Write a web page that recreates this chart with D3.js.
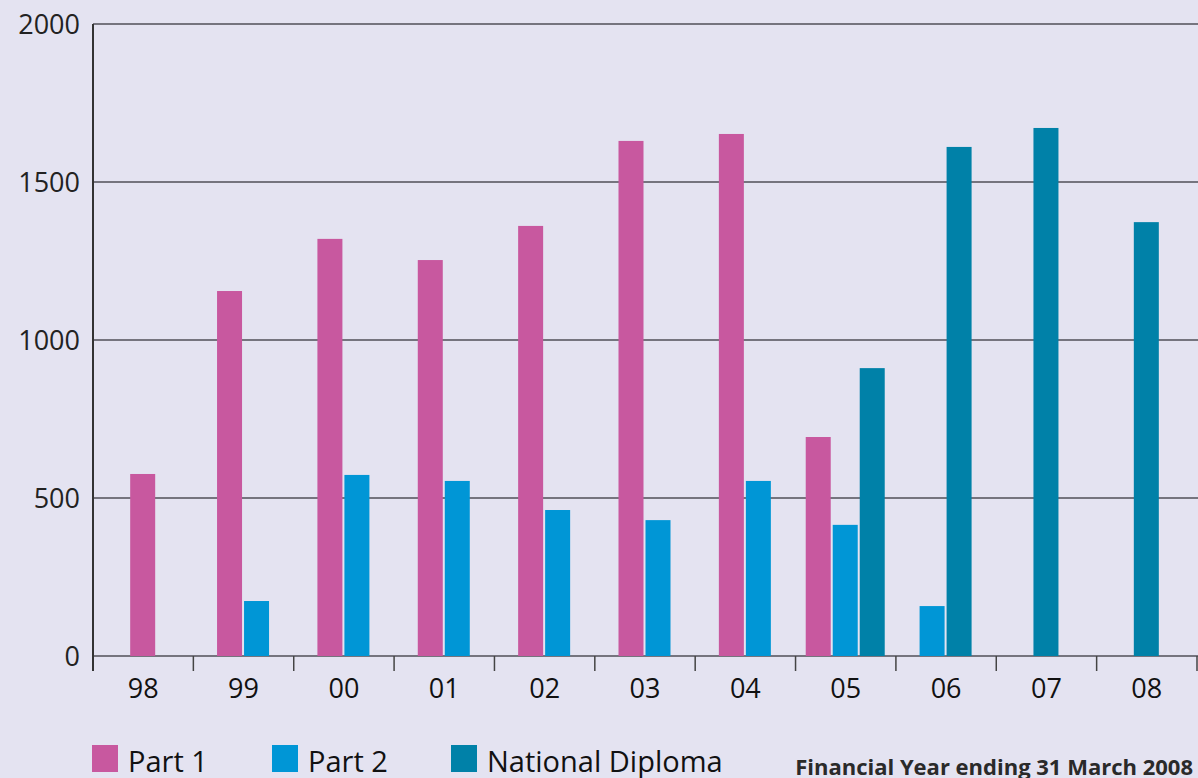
<!DOCTYPE html>
<html>
<head>
<meta charset="utf-8">
<title>Financial Year chart</title>
<script src="https://cdn.jsdelivr.net/npm/d3@7"></script>
<style>
  body { margin: 0; background: #e4e3f1; }
  svg { display: block; font-family: "Open Sans", "DejaVu Sans", sans-serif; }
  .grid line { stroke: #75747e; stroke-width: 2px; }
  .ylab { font-size: 27px; fill: #222; }
  .xlab { font-size: 27px; fill: #111; }
  .legend text { font-size: 29px; fill: #111; }
  .note { font-size: 22px; font-weight: bold; fill: #2a2a2a; }
</style>
</head>
<body>
<div id="chart"></div>
<script>
// data
const years = ["98", "99", "00", "01", "02", "03", "04", "05", "06", "07", "08"];
const part1 = [576, 1155, 1320, 1253, 1361, 1630, 1652, 693, null, null, null];
const part2 = [null, 174, 573, 554, 462, 430, 554, 415, 158, null, null];
const diploma = [null, null, null, null, null, null, null, 911, 1611, 1671, 1373];
const seriesNames = ["Part 1", "Part 2", "National Diploma"];
const seriesColors = ["#c8589f", "#0096d6", "#0081a8"];
const yTicks = [0, 500, 1000, 1500, 2000];

const W = 1198, H = 778;
const plot = { left: 93, right: 1197, top: 24, bottom: 656 };

const svg = d3.select("#chart").append("svg")
    .attr("width", W).attr("height", H);

svg.append("rect").attr("width", W).attr("height", H).attr("fill", "#e4e3f1");

const x = d3.scaleBand().domain(years).range([plot.left, plot.right]).padding(0);
const y = d3.scaleLinear().domain([0, 2000]).range([plot.bottom, plot.top]);

// gridlines
svg.append("g").attr("class", "grid")
  .selectAll("line").data(yTicks).join("line")
    .attr("x1", plot.left).attr("x2", W)
    .attr("y1", d => y(d)).attr("y2", d => y(d));

// y labels
svg.append("g").selectAll("text").data(yTicks).join("text")
    .attr("class", "ylab")
    .attr("x", 80).attr("y", d => y(d))
    .attr("dy", "0.36em")
    .attr("text-anchor", "end")
    .text(d => d);

// bars: only present series, centred in each band
const barW = 25, step = 27;
const all = [part1, part2, diploma];
const bars = [];
years.forEach((yr, i) => {
  const present = [];
  all.forEach((s, k) => { if (s[i] != null) present.push({ k: k, v: s[i] }); });
  const groupW = present.length * step - (step - barW);
  const cx = x(yr) + x.bandwidth() / 2 - 0.5;
  present.forEach((p, j) => {
    bars.push({ x: cx - groupW / 2 + j * step, v: p.v, k: p.k });
  });
});

svg.append("g").selectAll("rect").data(bars).join("rect")
    .attr("x", d => d.x)
    .attr("y", d => y(d.v))
    .attr("width", barW)
    .attr("height", d => y(0) - y(d.v))
    .attr("fill", d => seriesColors[d.k]);

// x axis ticks at band boundaries
const bounds = years.map(d => x(d)).concat([plot.right]);
svg.append("g").selectAll("line").data(bounds).join("line")
    .attr("x1", d => d).attr("x2", d => d)
    .attr("y1", plot.bottom).attr("y2", plot.bottom + 15)
    .attr("stroke", "#444").attr("stroke-width", 1.5);

// left axis
svg.append("line")
    .attr("x1", plot.left).attr("x2", plot.left)
    .attr("y1", plot.top).attr("y2", plot.bottom + 15)
    .attr("stroke", "#333").attr("stroke-width", 2);

// x labels
svg.append("g").selectAll("text").data(years).join("text")
    .attr("class", "xlab")
    .attr("x", d => x(d) + x.bandwidth() / 2)
    .attr("y", 698)
    .attr("text-anchor", "middle")
    .text(d => d);

// legend
const legX = [92, 272, 451];
const leg = svg.append("g").attr("class", "legend")
  .selectAll("g").data(seriesNames).join("g")
    .attr("transform", (d, i) => "translate(" + legX[i] + ",745)");
leg.append("rect").attr("width", 26).attr("height", 27)
    .attr("fill", (d, i) => seriesColors[i]);
leg.append("text").attr("x", 36).attr("y", 27).text(d => d);

svg.append("text").attr("class", "note")
    .attr("x", 1193).attr("y", 775)
    .attr("text-anchor", "end")
    .text("Financial Year ending 31 March 2008");
</script>
</body>
</html>
